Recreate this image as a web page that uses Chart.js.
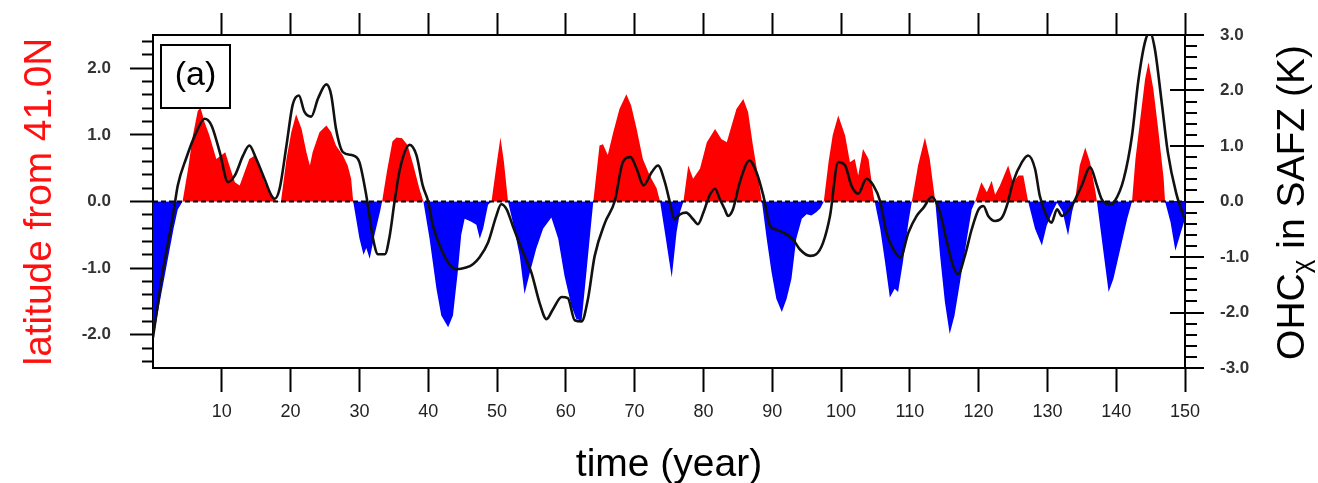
<!DOCTYPE html>
<html><head><meta charset="utf-8">
<script src="https://cdn.jsdelivr.net/npm/chart.js@4.4.0/dist/chart.umd.min.js"></script>
<style>html,body{margin:0;padding:0;background:#fff;overflow:hidden}canvas{display:block}</style>
</head><body>
<canvas id="c" width="1318" height="483"></canvas>
<script>
// ---- data ----
const latYears = [0,1,2,3,3.6,4.3,5.1,5.8,6.5,6.9,7.5,8.2,9.2,9.9,10.5,11.1,11.9,12.6,13.3,14.0,14.8,15.5,16.2,17.2,17.9,18.6,19.4,20.1,20.8,21.6,22.3,22.8,23.2,24.2,25.2,25.9,26.6,27.6,28.3,28.8,29.1,30.0,30.6,31.0,31.5,32.2,33.0,33.3,34.0,34.8,35.4,36.2,37.0,37.9,38.7,39.3,40.2,41.2,41.9,42.9,43.6,44.3,44.8,45.3,46.2,47.0,47.5,48.0,48.7,49.2,50.0,50.5,51.0,51.6,52.3,53.3,54.0,54.8,55.7,56.7,57.9,58.9,59.8,60.8,61.5,62.3,63.0,63.7,64.0,64.9,65.4,66.1,66.9,67.8,68.8,69.5,70.3,71.2,72.2,73.2,73.7,74.4,75.4,76.1,76.6,77.1,77.8,78.5,79.5,80.5,81.7,82.6,83.4,84.1,84.8,85.8,86.5,87.2,88.0,88.5,89.2,89.9,90.6,91.4,92.1,92.8,93.5,94.3,95.0,95.7,96.4,97.0,97.5,98.2,98.8,99.6,100.6,101.3,102.0,102.5,103.2,104.0,104.7,104.9,105.7,106.4,107.1,107.8,108.3,109.0,109.8,110.3,111.2,112.2,112.9,113.7,114.4,115.1,115.8,116.5,117.3,118.3,119.0,119.5,120.4,121.2,121.9,122.4,123.1,124.3,125.0,125.8,126.5,127.2,128.2,129.2,129.9,130.9,131.4,132.2,133.0,133.6,134.0,134.7,135.5,136.2,137.0,137.2,137.9,138.4,138.9,139.6,140.6,141.6,142.3,142.8,143.5,144.2,144.7,145.4,146.1,146.9,147.1,147.9,148.6,149.4,150.0];
const latValues = [-2.08,-1.5,-0.95,-0.4,-0.12,0,0.49,0.99,1.36,1.41,1.19,0.99,0.64,0.69,0.74,0.54,0.29,0.24,0.44,0.64,0.69,0.54,0.29,0.09,0.01,0,0.64,1.04,1.31,1.09,0.74,0.54,0.74,1.04,1.14,1.04,0.84,0.69,0.54,0.34,0,-0.55,-0.8,-0.7,-0.86,-0.5,-0.15,0,0.45,0.9,0.96,0.95,0.85,0.52,0.2,0,-0.56,-1.31,-1.71,-1.89,-1.71,-1.06,-0.5,-0.26,-0.3,-0.35,-0.56,-0.4,-0.05,0,0.6,0.96,0.6,0,-0.31,-0.81,-1.39,-1.06,-0.71,-0.41,-0.24,-0.56,-1.11,-1.56,-1.76,-1.79,-1.06,-0.31,0,0.84,0.86,0.7,1.04,1.39,1.61,1.44,1.09,0.64,0.39,0.2,0,-0.46,-1.14,-0.46,-0.16,0,0.54,0.34,0.49,0.89,1.09,0.94,0.89,1.14,1.39,1.54,1.34,0.84,0.34,0,-0.56,-1.06,-1.46,-1.66,-1.46,-1.16,-0.56,-0.26,-0.19,-0.21,-0.16,-0.1,0,0.6,1.0,1.29,0.99,0.59,0.64,0.39,0.79,0.64,0.1,0,-0.41,-0.91,-1.44,-1.31,-1.36,-0.91,-0.31,0,0.54,0.96,0.64,0,-0.81,-1.51,-1.99,-1.71,-1.21,-0.56,-0.12,0,0.29,0.14,0.31,0.1,0.24,0.54,0.29,0.39,0.39,0,-0.41,-0.66,-0.36,-0.12,-0.02,-0.15,-0.51,-0.15,0,0.54,0.81,0.59,0.14,0,-0.56,-0.96,-1.36,-1.16,-0.71,-0.26,0,0.64,1.24,1.84,2.09,1.69,1.09,0.34,0,-0.31,-0.74,-0.46,-0.26];

const ohcYears = [0,1.4,2.9,3.6,4.8,6.3,7.5,8.5,9.7,10.9,11.9,13.1,14.0,15.0,16.2,17.2,17.7,18.4,19.4,20.3,21.2,22.0,23.0,24.0,25.2,25.9,26.6,27.6,29.1,30.0,31.0,32.0,32.7,33.7,34.4,35.1,35.9,37.3,38.3,39.2,40.0,40.7,41.9,43.1,44.1,45.5,46.5,47.5,48.7,49.9,50.6,51.4,52.3,53.8,55.0,56.2,57.2,58.1,59.4,60.3,61.3,62.3,63.2,64.2,65.7,67.1,68.3,69.4,70.3,71.3,72.5,73.4,74.4,75.1,75.8,76.6,77.5,78.5,79.2,80.0,80.9,81.7,82.4,83.1,83.6,84.3,85.3,86.7,87.7,88.7,89.7,90.4,91.6,93.0,94.0,95.5,96.4,97.4,98.4,99.6,100.6,101.5,102.5,103.7,104.7,105.7,106.6,107.6,108.6,109.8,111.0,112.0,113.2,114.4,115.3,116.3,117.0,118.0,119.0,120.0,120.7,121.4,122.4,123.4,124.1,125.0,126.3,127.2,128.2,128.9,129.9,130.6,131.4,132.1,132.8,133.8,135.0,136.2,137.2,137.9,139.1,139.8,141.1,142.3,143.2,144.2,144.9,145.6,146.6,147.5,148.7,149.8,150.0];
const ohcValues = [-2.45,-1.28,-0.26,0.29,0.77,1.25,1.49,1.37,0.89,0.35,0.47,0.83,1.01,0.77,0.41,0.11,0.05,0.23,1.01,1.74,1.91,1.62,1.53,1.86,2.11,1.92,1.31,0.89,0.83,0.71,0.11,-0.68,-0.95,-0.95,-0.62,-0.01,0.59,1.02,0.83,0.29,0,-0.44,-0.86,-1.13,-1.22,-1.19,-1.13,-1.0,-0.74,-0.26,-0.05,-0.14,-0.44,-0.92,-1.28,-1.83,-2.12,-1.95,-1.72,-1.74,-2.14,-2.16,-1.77,-0.98,-0.38,0,0.71,0.8,0.59,0.29,0.53,0.65,0.35,0,-0.32,-0.23,-0.2,-0.32,-0.41,-0.2,0.11,0.23,0.04,-0.14,-0.26,-0.14,0.35,0.74,0.53,0.11,-0.44,-0.5,-0.56,-0.68,-0.86,-0.98,-0.95,-0.74,-0.26,0.71,0.65,0.29,0.14,0.41,0.29,0,-0.56,-0.86,-1.01,-0.56,-0.26,-0.11,0.08,-0.2,-0.68,-1.16,-1.31,-0.98,-0.5,-0.14,-0.08,-0.26,-0.35,-0.29,-0.08,0.35,0.71,0.83,0.59,0.1,-0.26,-0.38,-0.14,-0.26,-0.2,-0.02,0.29,0.62,0.29,0.04,-0.05,0.01,0.41,1.19,2.16,2.88,3.05,2.76,1.8,0.89,0.16,-0.26,-0.32];

const zeroLineX = [0, 150];
const zeroLineY = [0, 0];

const xTickValues = [10,20,30,40,50,60,70,80,90,100,110,120,130,140,150];
const leftTickValues = [-2.4,-2.2,-2.0,-1.8,-1.6,-1.4,-1.2,-1.0,-0.8,-0.6,-0.4,-0.2,0,0.2,0.4,0.6,0.8,1.0,1.2,1.4,1.6,1.8,2.0,2.2,2.4];
const rightTickValues = [-3.0,-2.8,-2.6,-2.4,-2.2,-2.0,-1.8,-1.6,-1.4,-1.2,-1.0,-0.8,-0.6,-0.4,-0.2,0,0.2,0.4,0.6,0.8,1.0,1.2,1.4,1.6,1.8,2.0,2.2,2.4,2.6,2.8,3.0];

const leftTitle = 'latitude from 41.0N';
const rightTitleMain = 'OHC';
const rightTitleSub = 'χ';
const rightTitleRest = ' in SAFZ (K)';
const xTitle = 'time (year)';
const panelLabel = '(a)';

// ---- styling ----
const FONT = '"Liberation Sans", Arial, Helvetica, sans-serif';
const isMajor = v => Math.abs(v - Math.round(v)) < 1e-9;
const toPts = (xs, ys) => xs.map((x, i) => ({x: x, y: ys[i]}));
const setTicks = arr => scale => { scale.ticks = arr.map(v => ({value: v})); };

const decor = {
  id: 'decor',
  afterDraw(chart) {
    const ctx = chart.ctx, a = chart.chartArea;
    ctx.save();
    // panel label box
    const bx = a.left + 8, by = a.top + 10, bw = 69, bh = 63;
    ctx.fillStyle = '#fff';
    ctx.fillRect(bx, by, bw, bh);
    ctx.lineWidth = 2; ctx.strokeStyle = '#000';
    ctx.strokeRect(bx, by, bw, bh);
    ctx.fillStyle = '#000';
    ctx.font = '34px ' + FONT;
    ctx.textAlign = 'center'; ctx.textBaseline = 'middle';
    ctx.fillText(panelLabel, bx + bw / 2, by + bh / 2 - 1);
    ctx.restore();

    // right axis title with subscript
    ctx.save();
    const big = '39px ' + FONT, small = '26px ' + FONT;
    ctx.font = big; const w1 = ctx.measureText(rightTitleMain).width;
    const w3 = ctx.measureText(rightTitleRest).width;
    ctx.font = small; const w2 = ctx.measureText(rightTitleSub).width;
    const total = w1 + w2 + w3;
    const cy = (a.top + a.bottom) / 2 + 1;
    ctx.translate(1304, cy);
    ctx.rotate(-Math.PI / 2);
    ctx.fillStyle = '#000';
    ctx.textAlign = 'left'; ctx.textBaseline = 'alphabetic';
    let x = -total / 2;
    ctx.font = big; ctx.fillText(rightTitleMain, x, 0); x += w1;
    ctx.font = small; ctx.fillText(rightTitleSub, x, 6); x += w2;
    ctx.font = big; ctx.fillText(rightTitleRest, x, 0);
    ctx.restore();
  }
};

new Chart(document.getElementById('c'), {
  type: 'line',
  data: {
    datasets: [
      {
        label: 'OHC', data: toPts(ohcYears, ohcValues), yAxisID: 'y2', xAxisID: 'x',
        borderColor: '#111', borderWidth: 2.6, pointRadius: 0, fill: false,
        cubicInterpolationMode: 'monotone', order: 0
      },
      {
        label: 'zero', data: toPts(zeroLineX, zeroLineY), yAxisID: 'y', xAxisID: 'x',
        borderColor: '#000', borderWidth: 2, borderDash: [5, 3], pointRadius: 0, fill: false, order: 1
      },
      {
        label: 'latitude', data: toPts(latYears, latValues), yAxisID: 'y', xAxisID: 'x',
        borderWidth: 0, borderColor: 'rgba(0,0,0,0)', pointRadius: 0, tension: 0,
        fill: {target: 'origin', above: '#ff0000', below: '#0000ff'}, order: 2
      }
    ]
  },
  options: {
    responsive: false, animation: false, devicePixelRatio: 1,
    layout: {padding: 0},
    plugins: {legend: {display: false}, tooltip: {enabled: false}},
    scales: {
      x: {
        type: 'linear', position: 'bottom', min: 0, max: 150,
        afterBuildTicks: setTicks(xTickValues),
        afterFit: s => { s.height = 115; },
        grid: {drawOnChartArea: false, drawTicks: true, tickLength: 24, tickWidth: 2, tickColor: '#000'},
        border: {display: true, width: 2, color: '#000'},
        ticks: {autoSkip: false, maxRotation: 0, padding: 9, color: '#222', font: {size: 18, family: FONT},
                callback: v => String(v)},
        title: {display: true, text: xTitle, color: '#000', font: {size: 39, family: FONT, lineHeight: 0.9}, padding: {top: 0, bottom: 0}}
      },
      x2: {
        type: 'linear', position: 'top', min: 0, max: 150,
        afterBuildTicks: setTicks(xTickValues),
        afterFit: s => { s.height = 35; },
        grid: {drawOnChartArea: false, drawTicks: true, tickLength: 22, tickWidth: 2, tickColor: '#000'},
        border: {display: true, width: 2, color: '#000'},
        ticks: {display: false}
      },
      y: {
        type: 'linear', position: 'left', min: -2.5, max: 2.5,
        afterBuildTicks: setTicks(leftTickValues),
        afterFit: s => { s.width = 153; },
        grid: {drawOnChartArea: false, drawTicks: true, tickLength: 23, tickWidth: 2, tickColor: '#000',
               tickBorderDash: c => (c.tick && !isMajor(c.tick.value)) ? [0, 12, 11, 200] : []},
        border: {display: true, width: 2, color: '#000'},
        ticks: {autoSkip: false, padding: 19, color: '#333', font: {size: 17, weight: 'bold', family: FONT},
                callback: v => isMajor(v) ? v.toFixed(1) : ''},
        title: {display: true, text: leftTitle, color: '#ff1010', font: {size: 38.8, family: FONT, lineHeight: 1}, padding: {top: 21, bottom: 0}}
      },
      y2: {
        type: 'linear', position: 'right', min: -3, max: 3,
        afterBuildTicks: setTicks(rightTickValues),
        afterFit: s => { s.width = 133; },
        grid: {
          drawOnChartArea: true, drawTicks: true, tickLength: 19, tickWidth: 2, tickColor: '#000',
          lineWidth: 2,
          color: c => (c.tick && isMajor(c.tick.value)) ? '#000' : 'rgba(0,0,0,0)',
          tickBorderDash: c => (c.tick && !isMajor(c.tick.value)) ? [11, 200] : []
        },
        border: {display: true, width: 2, color: '#000',
                 dash: c => (c.tick) ? [0, Math.max(0, c.chart.chartArea.width - 15), 14, 4000] : []},
        ticks: {autoSkip: false, padding: 16, color: '#333', font: {size: 17, weight: 'bold', family: FONT},
                callback: v => isMajor(v) ? v.toFixed(1) : ''}
      }
    }
  },
  plugins: [decor]
});
</script>
</body></html>
